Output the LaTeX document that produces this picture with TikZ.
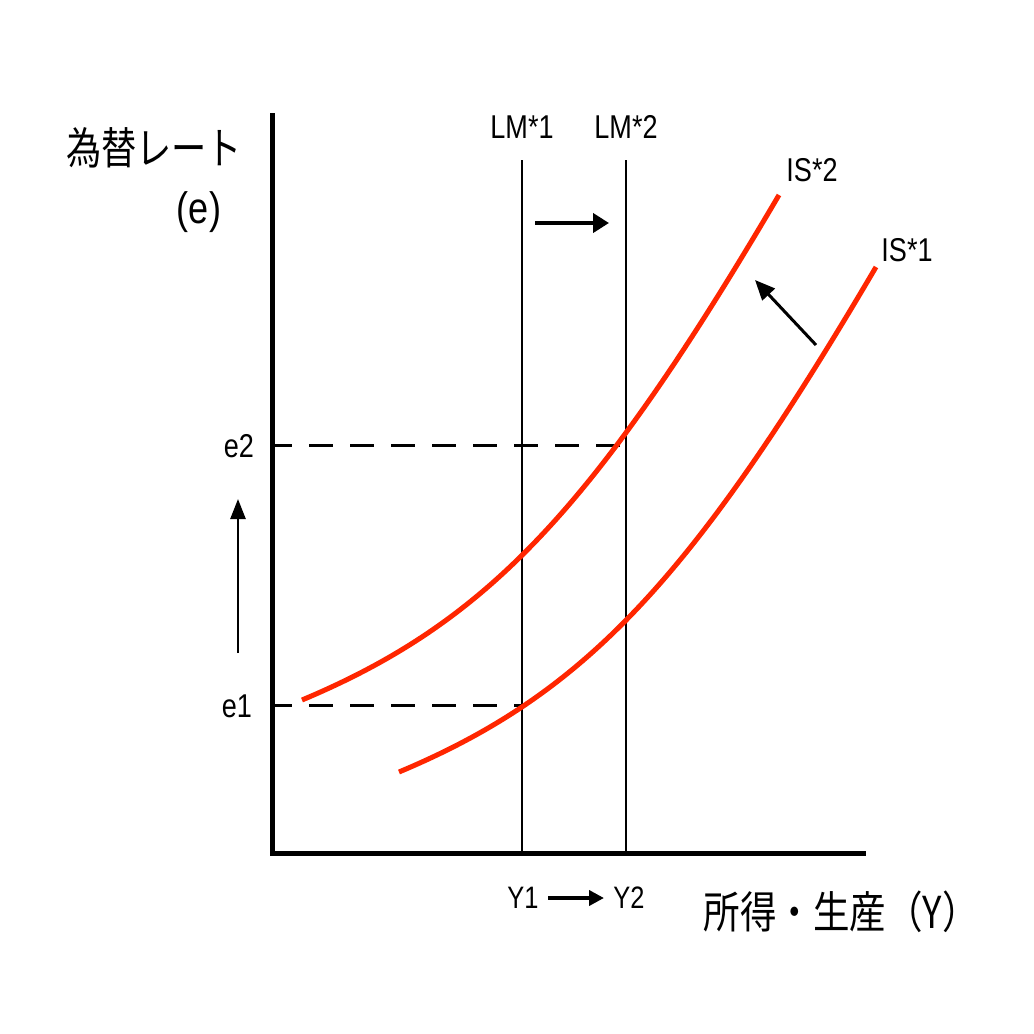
\documentclass[tikz,border=0pt]{standalone}
\usepackage{fontspec}
\setmainfont{Liberation Sans}
\newfontfamily\jpfont{Noto Sans CJK JP}
\usetikzlibrary{arrows.meta}
\definecolor{isred}{RGB}{255,38,0}
\newcommand{\nar}[1]{\scalebox{0.82}[1]{#1}}
\newcommand{\jnar}[1]{\scalebox{0.8}[1]{\jpfont #1}}
\newcommand{\jnarx}[1]{\scalebox{0.83}[1]{\jpfont #1}}
\begin{document}
\begin{tikzpicture}[x=1pt,y=-1pt,
  lab/.style={inner sep=0pt, font=\fontsize{33}{33}\selectfont},
  ylab/.style={inner sep=0pt, font=\fontsize{31}{31}\selectfont},
  jlab/.style={inner sep=0pt, font=\fontsize{44}{44}\selectfont},
  axisline/.style={line width=5pt, line cap=rect},
  lmline/.style={line width=2.2pt},
  guide/.style={line width=3pt, dash pattern=on 24pt off 17pt, dash phase=4pt},
  iscurve/.style={isred, line width=5pt},
  bigarrow/.style={line width=4pt, -{Triangle[length=16pt,width=19pt]}},
  thinarrow/.style={line width=2.5pt, -{Triangle[length=20pt,width=15pt]}},
  diagarrow/.style={line width=3pt, -{Triangle[length=20pt,width=17pt]}}]
\useasboundingbox[fill=white] (0,0) rectangle (1034,1034);

% axes
\coordinate (ytop) at (272,115);
\coordinate (O) at (272,853);
\coordinate (xend) at (863,853);
\draw[axisline] (ytop) -- (O) -- (xend);

% LM lines
\coordinate (lm1t) at (522,160);
\coordinate (lm1b) at (522,853);
\coordinate (lm2t) at (626,160);
\coordinate (lm2b) at (626,853);
\draw[lmline] (lm1t) -- (lm1b);
\draw[lmline] (lm2t) -- (lm2b);
\node[lab] (lm1lab) at (522,127) {\nar{LM*1}};
\node[lab] (lm2lab) at (626,127) {\nar{LM*2}};

% guides
\coordinate (e2a) at (272,445);
\coordinate (e2b) at (626,445);
\coordinate (e1a) at (272,705);
\coordinate (e1b) at (522,705);
\draw[guide] (e2a) -- (e2b);
\draw[guide] (e1a) -- (e1b);
\node[lab] (e2lab) at (239,446) {\nar{e2}};
\node[lab] (e1lab) at (237,706) {\nar{e1}};

% IS curves
\coordinate (is2s) at (302,700);
\coordinate (is2e) at (779,195);
\coordinate (is1s) at (399,772);
\coordinate (is1e) at (876,267);
\draw[iscurve] (is2s) .. controls (487,622.3) and (594,509.5) .. (is2e);
\draw[iscurve] (is1s) .. controls (584,694.3) and (691,581.5) .. (is1e);
\node[lab] (is2lab) at (812,170) {\nar{IS*2}};
\node[lab] (is1lab) at (907,250) {\nar{IS*1}};

% shift arrows
\coordinate (lmA) at (535,223);
\coordinate (lmB) at (609,223);
\draw[bigarrow] (lmA) -- (lmB);
\coordinate (upA) at (238,653);
\coordinate (upB) at (238,499);
\draw[thinarrow] (upA) -- (upB);
\coordinate (dgA) at (816,345);
\coordinate (dgB) at (755,280);
\draw[diagarrow] (dgA) -- (dgB);

% Y labels
\node[ylab] (y1lab) at (523,898) {\nar{Y1}};
\node[ylab] (y2lab) at (629,898) {\nar{Y2}};
\coordinate (yA) at (548,898);
\coordinate (yB) at (604,898);
\draw[line width=4pt, -{Triangle[length=15pt,width=15pt]}] (yA) -- (yB);

% axis titles
\node[jlab] (ytitle) at (154,148) {\jnar{為替レート}};
\node[jlab] (ytitle2) at (199,212) {\nar{(e)}};
\node[jlab] (xtitle) at (841,912) {\jnarx{所得・生産（Y）}};
\end{tikzpicture}
\end{document}
